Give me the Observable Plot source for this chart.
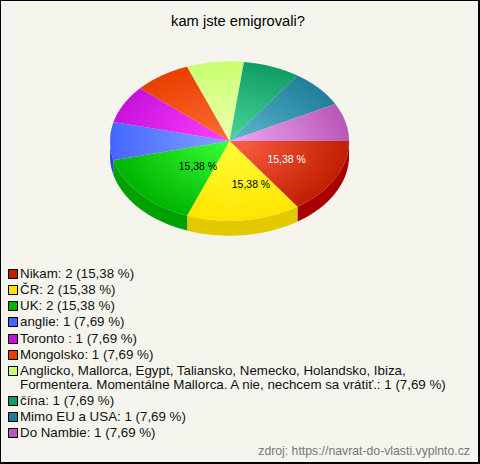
<!DOCTYPE html>
<html><head><meta charset="utf-8">
<script src="https://cdn.jsdelivr.net/npm/d3@7"></script>
<script src="https://cdn.jsdelivr.net/npm/@observablehq/plot@0.6"></script>
<style>
html,body{margin:0;padding:0;background:#f5f5ed}
#box{position:relative;width:480px;height:464px;box-sizing:border-box;border:1px solid #000;border-width:1px 2px 2px 1px;background:#f5f5ed;font-family:"Liberation Sans",Arial,sans-serif;overflow:hidden}
#title{position:absolute;left:-3px;width:480px;top:12px;text-align:center;font-size:14.7px;line-height:17px;color:#000}
#chart{position:absolute;left:-1px;top:49px}
#legend{position:absolute;left:7px;top:266px;width:450px;font-size:13.33px;line-height:14px;color:#111}
.row{position:relative;padding-left:12px;margin-bottom:2.15px}
.sw{position:absolute;left:0;top:2px;width:8px;height:8px;border:1px solid #000}
#src{position:absolute;right:8px;top:443px;font-size:12.25px;line-height:14px;color:#777}
</style></head><body>
<div id="box">
<div id="title"></div><div id="chart"></div><div id="legend"></div><div id="src"></div>
</div>
<script>
const titleText = "kam jste emigrovali?";
const sourceText = "zdroj: https://navrat-do-vlasti.vyplnto.cz";
const categories = ["Nikam","ČR","UK","anglie","Toronto ","Mongolsko","Anglicko, Mallorca, Egypt, Taliansko, Nemecko, Holandsko, Ibiza, Formentera. Momentálne Mallorca. A nie, nechcem sa vrátiť.","čína","Mimo EU a USA","Do Nambie"];
const counts = [2,2,2,1,1,1,1,1,1,1];
const percents = ["15,38 %","15,38 %","15,38 %","7,69 %","7,69 %","7,69 %","7,69 %","7,69 %","7,69 %","7,69 %"];
const edgeColors = ["#c02000","#ffe400","#00b400","#4466ff","#c812dc","#e84000","#c8ff70","#109c66","#1f7f99","#b858b8"];
const centerColors = ["#ff6048","#ffff38","#38ff38","#84a4ff","#ff40ff","#ff6c38","#f0ffb0","#48d898","#60b8d0","#f0a8f0"];
const wallColors = ["#a80000","#e2c900","#00a000","#2244dd"];

document.getElementById("title").textContent = titleText;
document.getElementById("src").textContent = sourceText;

const arcs = d3.pie().sort(null).startAngle(0).endAngle(2*Math.PI)(counts);
const depth = 15/80;
const arcPts = (a0,a1,off=0) => d3.range(0,41).map(i=>{const t=a0+(a1-a0)*i/40;return {x:Math.cos(t),y:Math.sin(t)+off};});
const marks = [];
arcs.forEach((a,i)=>{
  const end = Math.min(a.endAngle,Math.PI);
  if(a.startAngle<Math.PI){
    const pts=[...arcPts(a.startAngle,end),...arcPts(a.startAngle,end,depth).reverse()];
    marks.push(Plot.line(pts,{x:"x",y:"y",fill:wallColors[i],stroke:"none",curve:"linear-closed"}));
  }
});
arcs.forEach((a,i)=>{
  const pts=[{x:0,y:0},...arcPts(a.startAngle,a.endAngle)];
  marks.push(Plot.line(pts,{x:"x",y:"y",fill:`url(#g${i})`,stroke:"none",curve:"linear-closed"}));
});
const labelAt = (i,dx,dy,fill)=>{
  const m=(arcs[i].startAngle+arcs[i].endAngle)/2;
  marks.push(Plot.text([percents[i]],{x:[0.52*Math.cos(m)],y:[0.52*Math.sin(m)],text:d=>d,dx,dy,fill,fontSize:10.5,fontFamily:"Liberation Sans",letterSpacing:"-0.5px"}));
};
labelAt(0,2,-1,"#fff"); labelAt(1,14,2,"#000"); labelAt(2,15,-2,"#000");

const svg = Plot.plot({
  width:480,height:200,margin:0,style:{background:"transparent",overflow:"visible"},
  x:{domain:[-1,1],range:[110,350],axis:null},
  y:{domain:[-1,1],range:[11,171],axis:null},
  marks
});
const ns="http://www.w3.org/2000/svg";
const defs=document.createElementNS(ns,"defs");
edgeColors.forEach((c,i)=>{
  const g=document.createElementNS(ns,"radialGradient");
  g.setAttribute("id","g"+i);
  g.setAttribute("gradientUnits","userSpaceOnUse");
  g.setAttribute("cx",0);g.setAttribute("cy",0);g.setAttribute("r",1);
  g.setAttribute("gradientTransform","translate(230 91) scale(120 80)");
  [[0,centerColors[i]],[1,c]].forEach(([o,col])=>{
    const s=document.createElementNS(ns,"stop");
    s.setAttribute("offset",o);s.setAttribute("stop-color",col);g.appendChild(s);
  });
  defs.appendChild(g);
});
svg.insertBefore(defs,svg.firstChild);
document.getElementById("chart").appendChild(svg);

const legend=document.getElementById("legend");
categories.forEach((c,i)=>{
  const r=document.createElement("div");r.className="row";
  const s=document.createElement("span");s.className="sw";s.style.background=edgeColors[i];
  r.appendChild(s);
  r.appendChild(document.createTextNode(`${c}: ${counts[i]} (${percents[i]})`));
  legend.appendChild(r);
});
</script>
</body></html>
